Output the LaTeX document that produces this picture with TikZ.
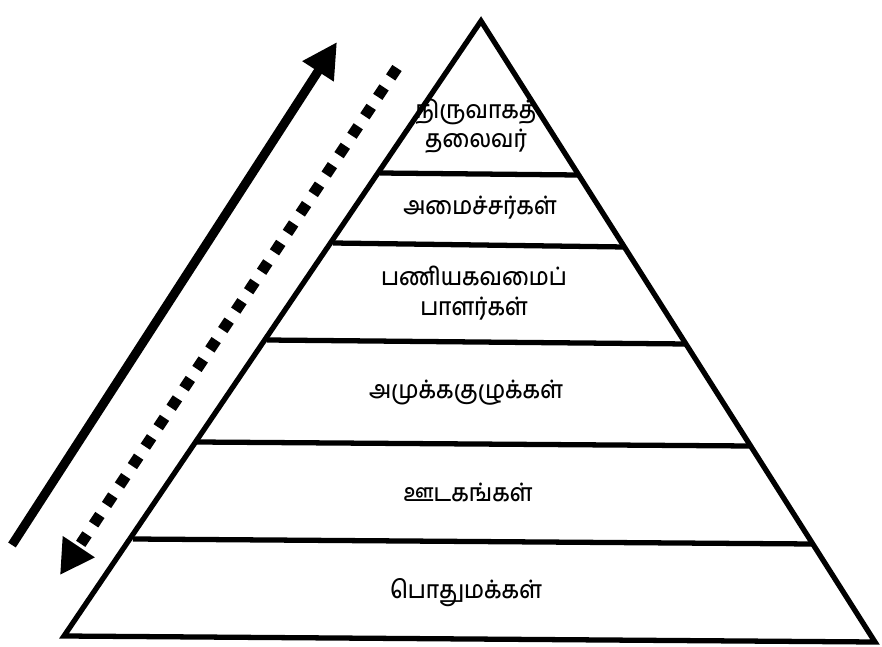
\documentclass[tikz,border=0pt]{standalone}
\usepackage{fontspec}
\newfontfamily\tamil[Script=Tamil, FakeStretch=0.9]{Hind Madurai Medium}
\usetikzlibrary{arrows.meta}
\begin{document}
\begin{tikzpicture}[x=0.03cm, y=-0.03cm,
    edge/.style={line width=4.5pt, line join=miter},
    tier/.style={align=center, inner sep=0pt, font=\tamil\fontsize{21}{25}\selectfont}]
  \useasboundingbox (0,0) rectangle (882,647);
  % pyramid
  \coordinate (top) at (481,21);
  \coordinate (bl) at (64,636);
  \coordinate (br) at (875,642);
  \draw[edge] (top) -- (bl) -- (br) -- cycle;
  \draw[edge] (380,173) -- (578,175);
  \draw[edge] (333,243) -- (625,247);
  \draw[edge] (267,340) -- (687,344);
  \draw[edge] (197,442) -- (750,446);
  \draw[edge] (133,539) -- (813,544);
  % labels
  \node[tier] (exec) at (476,126) {நிருவாகத்\\தலைவர்};
  \node[tier] (min) at (480,208) {அமைச்சர்கள்};
  \node[tier] (bur) at (474,293) {பணியகவமைப்\\பாளர்கள்};
  \node[tier] (grp) at (466,393) {அமுக்ககுழுக்கள்};
  \node[tier] (med) at (468,492) {ஊடகங்கள்};
  \node[tier] (pub) at (466,593) {பொதுமக்கள்};
  % arrows
  \coordinate (up0) at (12,545);
  \coordinate (up1) at (337,42);
  \coordinate (down0) at (397,68);
  \coordinate (down1) at (60,575);
  \draw[line width=7.7pt, -{Triangle[length=1.05cm, width=1.05cm]}] (up0) -- (up1);
  \draw[line width=9.5pt, dash pattern=on 0.34cm off 0.36cm,
        -{Triangle[length=1.02cm, width=1.08cm]}] (down0) -- (down1);
\end{tikzpicture}
\end{document}
